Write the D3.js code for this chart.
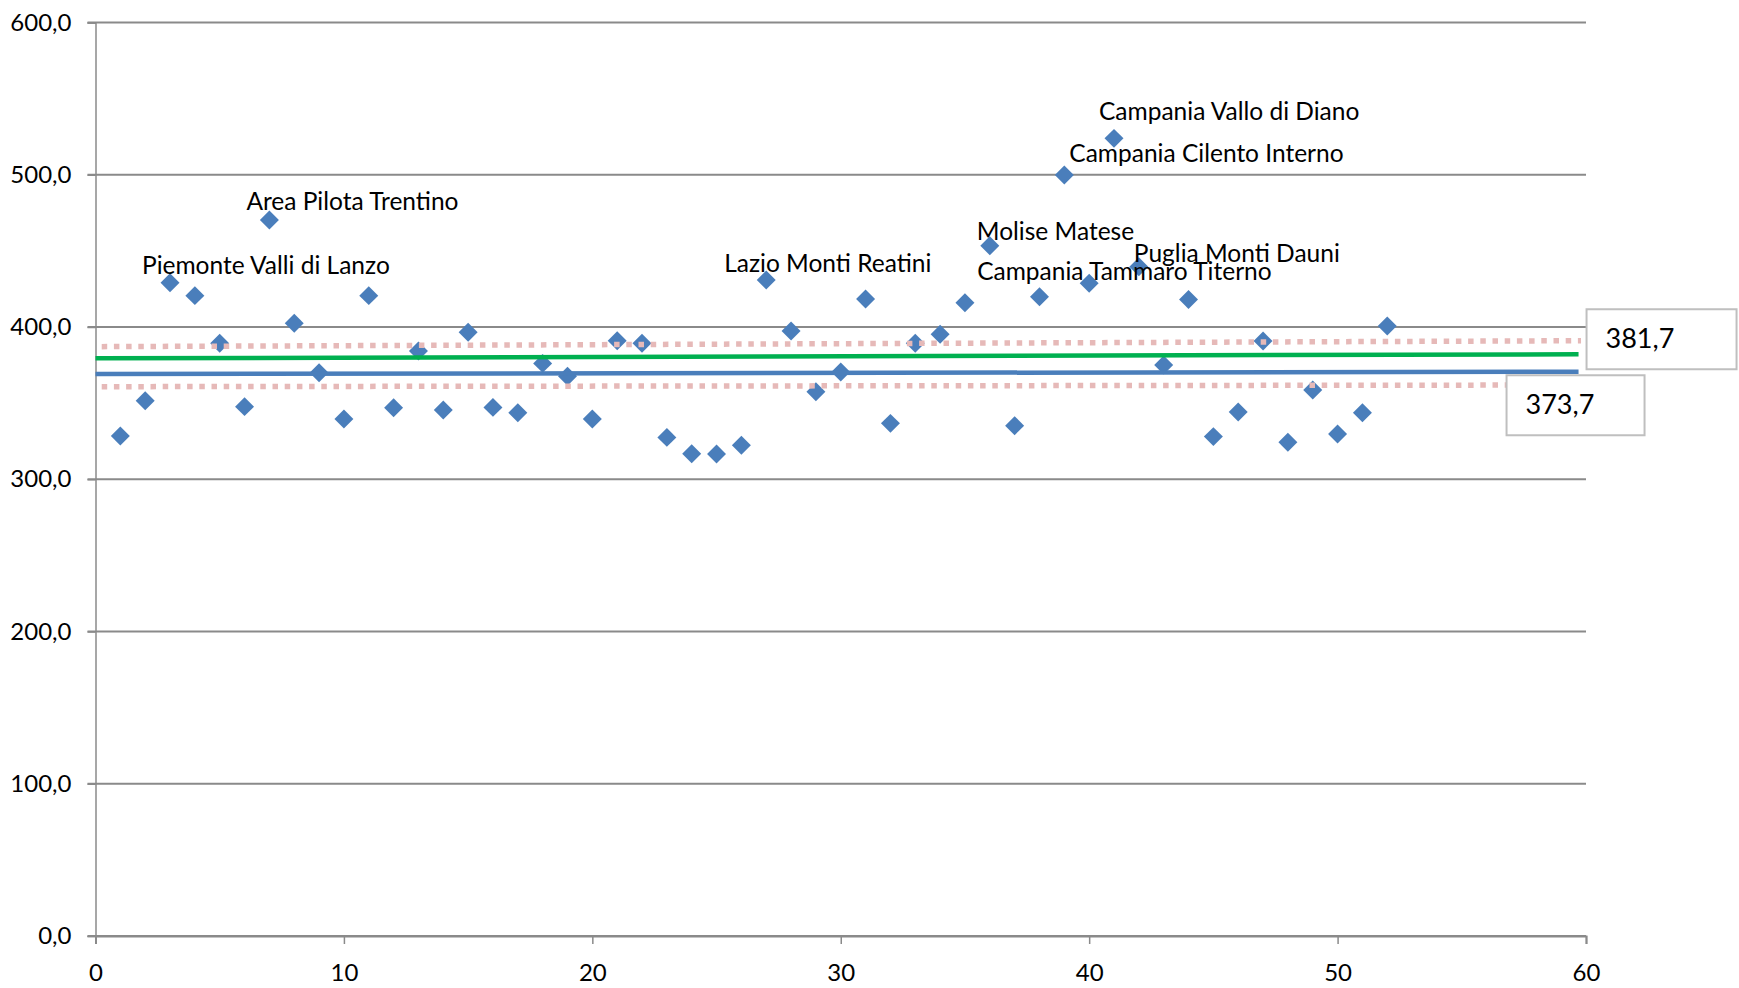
<!DOCTYPE html>
<html>
<head>
<meta charset="utf-8">
<script src="https://cdn.jsdelivr.net/npm/d3@7"></script>
<style>
  body { margin: 0; background: #fff; }
  svg { display: block; }
  text { font-family: Lato, "Open Sans", sans-serif; fill: #000; }
</style>
</head>
<body>
<div id="chart"></div>
<script>
// scatter values, one per area
const xValues = [1, 2, 3, 4, 5, 6, 7, 8, 9, 10, 11, 12, 13, 14, 15, 16, 17, 18, 19, 20,
  21, 22, 23, 24, 25, 26, 27, 28, 29, 30, 31, 32, 33, 34, 35, 36, 37, 38, 39, 40,
  41, 42, 43, 44, 45, 46, 47, 48, 49, 50, 51, 52]
const yValues = [328.4, 351.6, 429.1, 420.6, 389.3, 347.7, 470.3, 402.4, 370.0, 339.6,
  420.6, 347.0, 384.2, 345.5, 396.5, 347.2, 343.7, 376.1, 367.6, 339.6,
  391.0, 389.3, 327.5, 316.8, 316.6, 322.3, 430.9, 397.4, 357.5, 370.4,
  418.4, 336.7, 389.3, 395.2, 416.0, 453.4, 335.2, 419.9, 499.8, 428.7,
  523.9, 439.6, 375.0, 418.0, 328.0, 344.2, 390.8, 324.3, 358.6, 329.7,
  343.7, 400.7]

// named points
const labelPoints = [3, 7, 27, 36, 39, 40, 41, 42]
const labelTexts = ["Piemonte Valli di Lanzo", "Area Pilota Trentino", "Lazio Monti Reatini",
  "Molise Matese", "Campania Cilento Interno", "Campania Tammaro Titerno",
  "Campania Vallo di Diano", "Puglia Monti Dauni"]

// reference lines [x, y]
const greenLine = [[0, 379.4], [59.7, 382.1]]
const blueLine = [[0, 369.1], [59.7, 370.6]]
const upperBand = [[0.25, 387.1], [59.8, 391.0]]
const lowerBand = [[0.25, 360.8], [59.8, 361.9]]

const boxTexts = ["381,7", "373,7"]

const xTicks = [0, 10, 20, 30, 40, 50, 60]
const yTicks = [0, 100, 200, 300, 400, 500, 600]

// layout (pixels)
const width = 1739, height = 988
const labelOffsets = [[-28, -9], [-23, -10], [-42, -8], [-13, -6], [5, -13], [-112, -3], [-15, -18], [-5, -5]]

const x = d3.scaleLinear().domain([0, 60]).range([95.5, 1586])
const y = d3.scaleLinear().domain([0, 600]).range([936, 22.5])
const fmt = d => d3.format(".1f")(d).replace(".", ",")

const svg = d3.select("#chart").append("svg")
  .attr("width", width)
  .attr("height", height)

svg.append("rect").attr("width", width).attr("height", height).attr("fill", "#fff")

// gridlines
svg.append("g")
  .selectAll("line")
  .data(yTicks)
  .join("line")
    .attr("x1", x(0) - 8)
    .attr("x2", x(60))
    .attr("y1", d => y(d))
    .attr("y2", d => y(d))
    .attr("stroke", "#8a8a8a")
    .attr("stroke-width", 2)

// y axis
const yAxis = svg.append("g")
  .attr("transform", `translate(${x(0)},0)`)
  .call(d3.axisLeft(y).tickValues(yTicks).tickFormat(fmt).tickSize(8).tickPadding(16))
yAxis.select(".domain").attr("stroke", "#8a8a8a").attr("stroke-width", 1.5)
yAxis.selectAll(".tick line").attr("stroke", "#8a8a8a").attr("stroke-width", 1.5)
yAxis.selectAll(".tick text")
  .attr("font-size", 24)
  .attr("font-family", "Lato, 'Open Sans', sans-serif")
  .attr("fill", "#000")

// x axis
const xAxis = svg.append("g")
  .attr("transform", `translate(0,${y(0)})`)
  .call(d3.axisBottom(x).tickValues(xTicks).tickFormat(d3.format("d")).tickSize(8).tickPadding(20))
xAxis.select(".domain").attr("stroke", "#8a8a8a").attr("stroke-width", 2)
xAxis.selectAll(".tick line").attr("stroke", "#8a8a8a").attr("stroke-width", 1.5)
xAxis.selectAll(".tick text")
  .attr("font-size", 24)
  .attr("font-family", "Lato, 'Open Sans', sans-serif")
  .attr("fill", "#000")

// points
const points = xValues.map((d, i) => ({x: d, y: yValues[i]}))
const diamond = d3.symbol().type(d3.symbolSquare).size(180)
svg.append("g")
  .selectAll("path")
  .data(points)
  .join("path")
    .attr("d", diamond)
    .attr("transform", d => `translate(${x(d.x)},${y(d.y)}) rotate(45)`)
    .attr("fill", "#4a7ebb")

// lines
const line = d3.line().x(d => x(d[0])).y(d => y(d[1]))
const lines = [
  {pts: upperBand, color: "#e6b9b8", w: 5.5, dash: "5.5 6.7"},
  {pts: lowerBand, color: "#e6b9b8", w: 5.5, dash: "5.5 6.7"},
  {pts: greenLine, color: "#00b050", w: 4.5, dash: null},
  {pts: blueLine, color: "#4a7ebb", w: 4.5, dash: null},
]
svg.append("g")
  .selectAll("path")
  .data(lines)
  .join("path")
    .attr("d", d => line(d.pts))
    .attr("fill", "none")
    .attr("stroke", d => d.color)
    .attr("stroke-width", d => d.w)
    .attr("stroke-dasharray", d => d.dash)

// point labels (the reference has two of them overlapping)
svg.append("g")
  .selectAll("text")
  .data(labelPoints)
  .join("text")
    .attr("x", (d, i) => x(d) + labelOffsets[i][0])
    .attr("y", (d, i) => y(yValues[d - 1]) + labelOffsets[i][1])
    .attr("font-size", 24.5)
    .text((d, i) => labelTexts[i])

// value boxes at the end of the lines
const boxes = [
  {end: greenLine[1], text: boxTexts[0], dx: 8, dy: -45, w: 150, h: 60},
  {end: blueLine[1], text: boxTexts[1], dx: -72, dy: 3.5, w: 138, h: 60},
]
const boxG = svg.append("g")
  .selectAll("g")
  .data(boxes)
  .join("g")
    .attr("transform", d => `translate(${x(d.end[0]) + d.dx},${y(d.end[1]) + d.dy})`)
boxG.append("rect")
  .attr("width", d => d.w)
  .attr("height", d => d.h)
  .attr("fill", "#fff")
  .attr("stroke", "#bfbfbf")
  .attr("stroke-width", 2)
boxG.append("text")
  .attr("x", 19)
  .attr("y", 39)
  .attr("font-size", 27)
  .text(d => d.text)
</script>
</body>
</html>
